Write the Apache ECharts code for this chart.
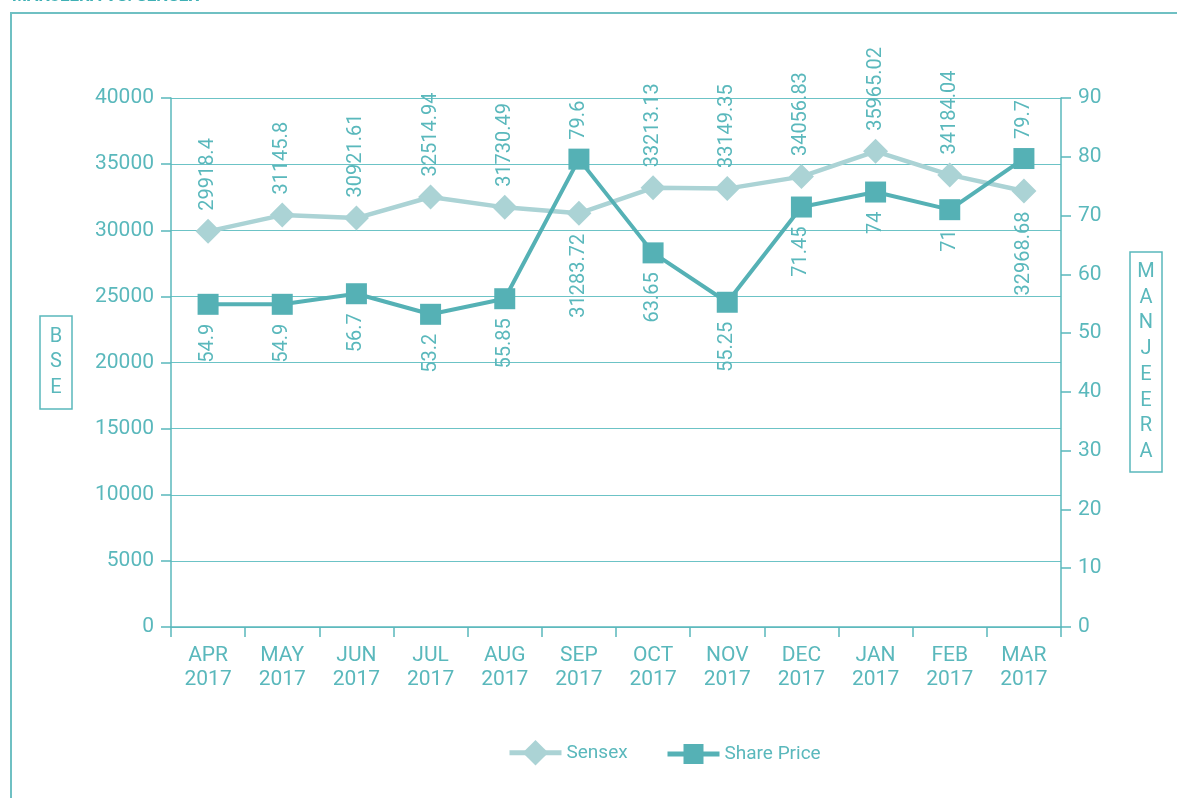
<!DOCTYPE html>
<html>
<head>
<meta charset="utf-8">
<script src="https://cdn.jsdelivr.net/npm/echarts@6/dist/echarts.min.js"></script>
<style>
	html, body { margin: 0; padding: 0; background: #fff; }
	#chart { width: 1177px; height: 798px; }
</style>
</head>
<body>
<div id="chart"></div>
<script>
// values
const months = ["APR\n2017", "MAY\n2017", "JUN\n2017", "JUL\n2017", "AUG\n2017", "SEP\n2017",
	"OCT\n2017", "NOV\n2017", "DEC\n2017", "JAN\n2017", "FEB\n2017", "MAR\n2017"];
const sensex = [29918.4, 31145.8, 30921.61, 32514.94, 31730.49, 31283.72,
	33213.13, 33149.35, 34056.83, 35965.02, 34184.04, 32968.68];
const sharePrice = [54.9, 54.9, 56.7, 53.2, 55.85, 79.6, 63.65, 55.25, 71.45, 74, 71, 79.7];
const bseTicks = [0, 40000, 5000];
const manjeeraTicks = [0, 90, 10];
// months where the two series swap label sides
const flipped = ["SEP\n2017", "MAR\n2017"];

const teal = "#5ab8bc";
const font = "Roboto, 'Liberation Sans', sans-serif";

function labelled(values, normal) {
	return values.map((v, i) => {
		const up = flipped.includes(months[i]) ? normal !== "top" : normal === "top";
		return {
			value: v,
			label: {
				position: up ? "top" : "bottom",
				align: up ? "left" : "right"
			}
		};
	});
}

const axisCommon = {
	axisLine: { show: true, lineStyle: { color: teal, width: 1.5 } },
	axisTick: { show: true, length: 10, lineStyle: { color: teal, width: 1.5 } },
	axisLabel: { fontSize: 21, color: teal, margin: 17, fontFamily: font, formatter: v => String(v) }
};

const legendCommon = {
	padding: 0,
	itemWidth: 52,
	textStyle: { fontSize: 19, color: teal, fontFamily: font },
	lineStyle: { width: 5 }
};

const chart = echarts.init(document.getElementById("chart"));
chart.setOption({
	animation: false,
	textStyle: { fontFamily: font, color: teal },
	grid: { left: 171, right: 116, top: 98, bottom: 171 },
	legend: [
		Object.assign({ left: 507, top: 740, itemHeight: 32, data: ["Sensex"] }, legendCommon),
		Object.assign({ left: 665, top: 744, itemHeight: 25, data: ["Share Price"] }, legendCommon)
	],
	xAxis: {
		type: "category",
		data: months,
		axisLine: axisCommon.axisLine,
		axisTick: axisCommon.axisTick,
		axisLabel: { fontSize: 21, color: teal, margin: 17, lineHeight: 24, fontFamily: font }
	},
	yAxis: [
		Object.assign({
			type: "value",
			min: bseTicks[0],
			max: bseTicks[1],
			interval: bseTicks[2],
			splitLine: { lineStyle: { color: "#6cc3c6", width: 1 } }
		}, axisCommon),
		Object.assign({
			type: "value",
			min: manjeeraTicks[0],
			max: manjeeraTicks[1],
			interval: manjeeraTicks[2],
			splitLine: { show: false }
		}, axisCommon)
	],
	series: [
		{
			name: "Sensex",
			type: "line",
			yAxisIndex: 0,
			data: labelled(sensex, "top"),
			symbol: "diamond",
			symbolSize: 25,
			z: 2,
			lineStyle: { color: "#abd3d5", width: 4.5 },
			itemStyle: { color: "#abd3d5" },
			label: {
				show: true,
				rotate: 90,
				verticalAlign: "middle",
				distance: 8,
				fontSize: 20,
				color: teal,
				fontFamily: font
			}
		},
		{
			name: "Share Price",
			type: "line",
			yAxisIndex: 1,
			data: labelled(sharePrice, "bottom"),
			symbol: "rect",
			symbolSize: 21,
			z: 3,
			lineStyle: { color: "#55b1b5", width: 4 },
			itemStyle: { color: "#55b1b5" },
			label: {
				show: true,
				rotate: 90,
				verticalAlign: "middle",
				distance: 9,
				fontSize: 20,
				color: teal,
				fontFamily: font
			}
		}
	],
	graphic: [
		{
			type: "text",
			x: 12,
			y: -12,
			style: { text: "MANJEERA VS. SENSEX", font: "bold 17px " + font, fill: "#3fb0b5" }
		},
		{
			type: "rect",
			shape: { x: 11, y: 13, width: 1200, height: 820 },
			style: { fill: "none", stroke: "#6fc0c3", lineWidth: 2 },
			silent: true
		},
		{
			type: "rect",
			shape: { x: 40, y: 316, width: 32, height: 93 },
			style: { fill: "none", stroke: teal, lineWidth: 1.5 }
		},
		{
			type: "text",
			x: 56,
			y: 362,
			style: {
				text: "B\nS\nE",
				font: "20px " + font,
				fill: teal,
				align: "center",
				verticalAlign: "middle",
				lineHeight: 25.5
			}
		},
		{
			type: "rect",
			shape: { x: 1130, y: 252, width: 32, height: 220 },
			style: { fill: "none", stroke: teal, lineWidth: 1.5 }
		},
		{
			type: "text",
			x: 1146,
			y: 362,
			style: {
				text: "M\nA\nN\nJ\nE\nE\nR\nA",
				font: "20px " + font,
				fill: teal,
				align: "center",
				verticalAlign: "middle",
				lineHeight: 25.7
			}
		}
	]
});
</script>
</body>
</html>
